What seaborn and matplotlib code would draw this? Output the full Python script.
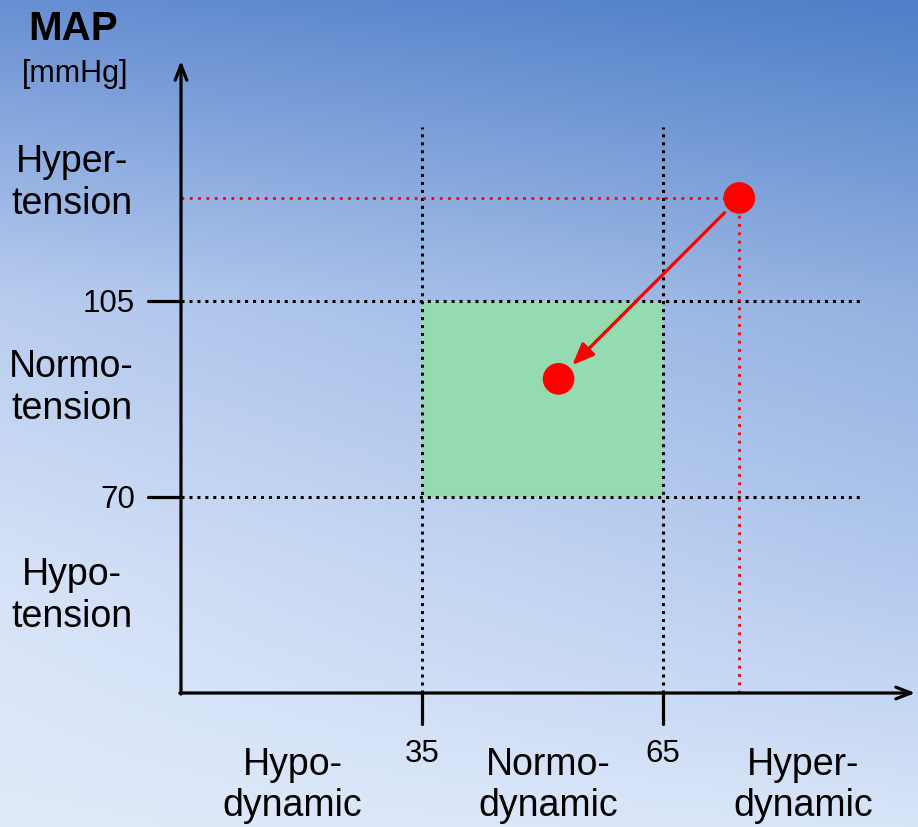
import matplotlib
matplotlib.use("Agg")
import matplotlib.pyplot as plt
import numpy as np
import seaborn as sns
from matplotlib.patches import Rectangle

# Thresholds on the two axes
x_thresholds = [35, 65]          # cardiac index zones
y_thresholds = [70, 105]         # MAP [mmHg]
x_tick_labels = ["35", "65"]
y_tick_labels = ["70", "105"]

y_categories = ["Hypo-\ntension", "Normo-\ntension", "Hyper-\ntension"]
y_cat_pos = [52.5, 89.6, 126.3]
x_categories = ["Hypo-\ndynamic", "Normo-\ndynamic", "Hyper-\ndynamic"]
x_cat_pos = [18.9, 50.7, 82.4]

# Patient state: start (hyperdynamic / hypertensive) -> target (normal)
state_x = [74.5, 52.0]
state_y = [123.4, 91.1]

X_ORIGIN, Y_ORIGIN = 5, 35
XMIN, XMAX = -17.53, 96.74
YMIN, YMAX = 11.07, 158.93

sns.set_theme(style="white")
plt.rcParams["font.family"] = ["Liberation Sans", "DejaVu Sans"]
plt.rcParams["text.color"] = "black"

fig = plt.figure(figsize=(9.18, 8.28), dpi=100)
ax = fig.add_axes([0, 0, 1, 1])
ax.set_xlim(XMIN, XMAX)
ax.set_ylim(YMIN, YMAX)
ax.axis("off")

# background gradient (top dark blue -> bottom pale blue)
H, W = 120, 60
rows = np.linspace(0, 1, H)[:, None]
cols = np.linspace(0, 1, W)[None, :]
stops = [0.0, 0.36, 0.7, 1.0]
left = np.array([[104, 143, 210], [184, 204, 239], [214, 226, 247], [224, 234, 250]]) / 255
right = np.array([[78, 127, 199], [146, 176, 224], [180, 202, 238], [216, 228, 248]]) / 255
grad = np.zeros((H, W, 3))
for c in range(3):
    lc = np.interp(rows[:, 0], stops, left[:, c])[:, None]
    rc = np.interp(rows[:, 0], stops, right[:, c])[:, None]
    grad[:, :, c] = lc * (1 - cols) + rc * cols
ax.imshow(grad, extent=[XMIN, XMAX, YMIN, YMAX], aspect="auto", zorder=0,
          interpolation="bicubic")

# normal zone
ax.add_patch(Rectangle((x_thresholds[0], y_thresholds[0]),
                       x_thresholds[1] - x_thresholds[0],
                       y_thresholds[1] - y_thresholds[0],
                       facecolor="#95dbb1", edgecolor="none", zorder=1))

dot = (0, (1, 1.6))
for yv in y_thresholds:
    ax.plot([X_ORIGIN, 89.5], [yv, yv], color="black", lw=2.2, ls=dot, zorder=2)
for xv in x_thresholds:
    ax.plot([xv, xv], [Y_ORIGIN, 136], color="black", lw=2.2, ls=dot, zorder=2)

# red guide lines to the start point
red_dot = (0, (1, 2.0))
ax.plot([X_ORIGIN, state_x[0]], [state_y[0], state_y[0]], color="red", lw=2.0,
        ls=red_dot, zorder=2)
ax.plot([state_x[0], state_x[0]], [Y_ORIGIN, state_y[0]], color="red", lw=2.0,
        ls=red_dot, zorder=2)

# axes with arrows
ax.annotate("", xy=(96.4, Y_ORIGIN), xytext=(X_ORIGIN - 0.15, Y_ORIGIN),
            arrowprops=dict(arrowstyle="->,head_length=0.9,head_width=0.35",
                            lw=2.3, color="black", shrinkA=0, shrinkB=0), zorder=3)
ax.annotate("", xy=(X_ORIGIN, 147.9), xytext=(X_ORIGIN, Y_ORIGIN - 0.2),
            arrowprops=dict(arrowstyle="->,head_length=0.9,head_width=0.35",
                            lw=2.3, color="black", shrinkA=0, shrinkB=0), zorder=3)

# ticks
for xv, lab in zip(x_thresholds, x_tick_labels):
    ax.plot([xv, xv], [Y_ORIGIN, Y_ORIGIN - 5.5], color="black", lw=2.3, zorder=3)
    ax.text(xv, 24.3, lab, ha="center", va="center", fontsize=22.5)
for yv, lab in zip(y_thresholds, y_tick_labels):
    ax.plot([0.9, X_ORIGIN], [yv, yv], color="black", lw=2.3, zorder=3)
    ax.text(-0.7, yv - 0.3, lab, ha="right", va="center", fontsize=22.5)

# category labels
for lab, yv in zip(y_categories, y_cat_pos):
    ax.text(-8.6, yv, lab, ha="center", va="center", fontsize=27, linespacing=1.22)
for lab, xv in zip(x_categories, x_cat_pos):
    ax.text(xv, 18.6, lab, ha="center", va="center", fontsize=27, linespacing=1.18)

ax.text(-8.45, 153.8, "MAP", ha="center", va="center", fontsize=29, fontweight="bold")
ax.text(-8.2, 145.7, "[mmHg]", ha="center", va="center", fontsize=22)

# state points and transition arrow
sns.scatterplot(x=state_x, y=state_y, ax=ax, color="red", s=520,
                edgecolor="none", zorder=5, legend=False)
ax.annotate("", xy=(state_x[1], state_y[1]), xytext=(state_x[0], state_y[0]),
            arrowprops=dict(arrowstyle="-|>,head_length=1.1,head_width=0.45",
                            lw=2.3, color="red", shrinkA=15, shrinkB=14), zorder=4)

fig.savefig("out.png", dpi=100)
